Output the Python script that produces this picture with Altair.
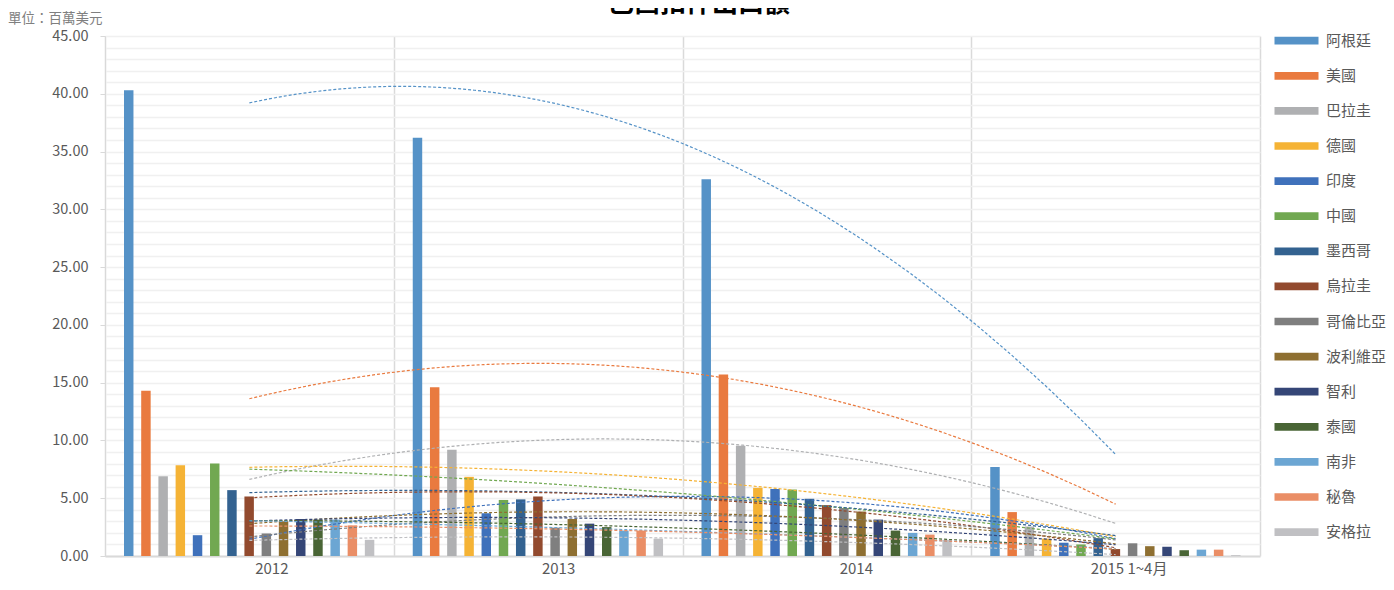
import altair as alt
import pandas as pd

countries = ["阿根廷", "美國", "巴拉圭", "德國", "印度", "中國", "墨西哥", "烏拉圭",
             "哥倫比亞", "波利維亞", "智利", "泰國", "南非", "秘魯", "安格拉"]
periods = ["2012", "2013", "2014", "2015 1~4月"]
v2012 = [40.3, 14.3, 6.9, 7.85, 1.8, 8.0, 5.7, 5.15, 1.95, 3.0, 3.2, 3.15, 3.15, 2.65, 1.4]
v2013 = [36.2, 14.6, 9.2, 6.85, 3.7, 4.85, 4.9, 5.15, 2.45, 3.2, 2.8, 2.5, 2.2, 2.2, 1.5]
v2014 = [32.6, 15.7, 9.55, 5.9, 5.8, 5.75, 4.95, 4.4, 4.15, 3.85, 3.15, 2.2, 2.0, 1.85, 1.4]
v2015 = [7.7, 3.8, 2.55, 1.5, 1.15, 1.0, 1.55, 0.6, 1.1, 0.85, 0.8, 0.5, 0.55, 0.55, 0.07]
colors = ["#5592C7", "#E97A3F", "#AFB0B2", "#F5B335", "#3F71BB", "#71A851", "#336290",
          "#924A2E", "#7F7F7F", "#8E6F31", "#354677", "#496535", "#6CA6D3", "#EA8E66",
          "#C0C0C3"]
title_text = "巴西扣件出口額"
unit_text = "單位：百萬美元"

rows = []
for i, (p, vals) in enumerate(zip(periods, [v2012, v2013, v2014, v2015])):
    for c, v in zip(countries, vals):
        rows.append({"period": p, "idx": i, "country": c, "value": v})
df = pd.DataFrame(rows)

FONT = "Noto Sans CJK TC"
W, H = 1155, 520


def y_axis():
    return alt.Axis(
        title=None,
        values=list(range(0, 46)),
        labelExpr="datum.value % 5 === 0 ? format(datum.value, '.2f') : ''",
        labelOverlap=False,
        labelFont=FONT, labelFontSize=14.5, labelColor="#595959", labelPadding=12,
        tickSize=5,
        tickColor={"condition": {"test": "datum.value % 5 === 0", "value": "#d9d9d9"},
                   "value": "transparent"},
        domainColor="#d9d9d9", domainWidth=1,
        gridColor="#f0f0f0", gridWidth=1.5,
    )


x_axis = alt.Axis(
    title=None, labelAngle=0, ticks=False,
    tickBand="extent",
    labelFont=FONT, labelFontSize=15, labelColor="#595959", labelPadding=5,
    labelOffset={"condition": [
        {"test": "datum.value === '2012'", "value": 22},
        {"test": "datum.value === '2013'", "value": 20},
        {"test": "datum.value === '2014'", "value": 29},
    ], "value": 13},
    domainColor="#d9d9d9", domainWidth=2,
    grid=True, gridColor="#dadada", gridWidth=1.5,
)

legend = alt.Legend(
    title=None, orient="none", legendX=1184, legendY=-2.8, padding=0,
    symbolType="M-4,-0.7L4,-0.7L4,0.7L-4,0.7Z", symbolSize=121,
    symbolStrokeWidth=0, symbolOpacity=1,
    labelFont=FONT, labelFontSize=15, labelColor="#595959", labelOffset=22,
    labelLimit=200, rowPadding=19.1,
)

base = alt.Chart(df)

bars = base.mark_bar().encode(
    x=alt.X("period:N", sort=periods, axis=x_axis,
            scale=alt.Scale(paddingInner=0, paddingOuter=0)),
    xOffset=alt.XOffset("country:N", sort=countries,
                        scale=alt.Scale(range=[19, 269.3], paddingInner=0.45,
                                        paddingOuter=0)),
    y=alt.Y("value:Q", axis=y_axis(), scale=alt.Scale(domain=[0, 45], nice=False)),
    color=alt.Color("country:N", sort=countries,
                    scale=alt.Scale(domain=countries, range=colors), legend=legend),
)

trends = base.transform_regression(
    "idx", "value", groupby=["country"], method="poly", order=2, extent=[0, 3]
).mark_line(strokeWidth=1.2, strokeDash=[3, 2]).encode(
    x=alt.X("idx:Q", axis=None,
            scale=alt.Scale(domain=[-0.5, 3.5], nice=False, zero=False)),
    y=alt.Y("value:Q", axis=y_axis(), scale=alt.Scale(domain=[0, 45], nice=False)),
    stroke=alt.Stroke("country:N", scale=alt.Scale(domain=countries, range=colors),
                      legend=None),
    detail="country:N",
)

title_mark = alt.Chart(pd.DataFrame({"t": [title_text]})).mark_text(
    font=FONT, fontSize=26, fontWeight="bold", color="#000000",
    align="center", baseline="alphabetic"
).encode(x=alt.value(594), y=alt.value(-24), text="t:N")

unit_mark = alt.Chart(pd.DataFrame({"t": [unit_text]})).mark_text(
    font=FONT, fontSize=13.5, color="#7f7f7f", align="left", baseline="alphabetic"
).encode(x=alt.value(-97), y=alt.value(-13), text="t:N")

chart = alt.layer(bars, trends, title_mark, unit_mark).resolve_scale(
    x="independent"
).properties(
    width=W, height=H,
    autosize=alt.AutoSizeParams(type="none"),
    padding={"left": 97, "top": 28, "right": 126, "bottom": 24},
    background="white",
).configure_view(stroke=None)

chart.save("out.html", embed_options={"renderer": "svg", "actions": False})
